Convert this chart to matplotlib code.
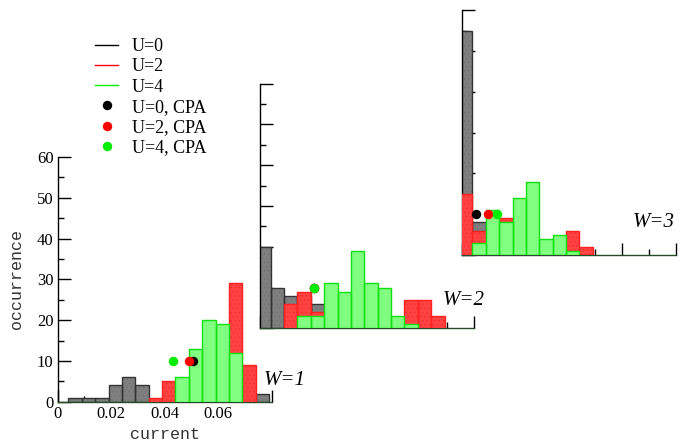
import matplotlib.pyplot as plt
from matplotlib.lines import Line2D
from matplotlib.ticker import MultipleLocator, FixedLocator
import numpy as np

plt.rcParams['font.family'] = ['Liberation Serif', 'DejaVu Serif']
plt.rcParams['hatch.linewidth'] = 0.5

# histogram bins (centres, width 0.005)
bin_centres = [0.0015, 0.0065, 0.0115, 0.0165, 0.0215, 0.0265, 0.0315, 0.0365,
               0.0415, 0.0465, 0.0515, 0.0565, 0.0615, 0.0665, 0.0715, 0.0765]
bin_width = 0.005

# W=1
w1_u0 = [0, 1, 1, 1, 4, 6, 4, 0, 0, 0, 0, 0, 0, 0, 0, 2]
w1_u2 = [0, 0, 0, 0, 0, 0, 0, 1, 5, 0, 0, 0, 0, 29, 9, 0]
w1_u4 = [0, 0, 0, 0, 0, 0, 0, 0, 0, 6, 13, 20, 19, 12, 0, 0]
# W=2
w2_u0 = [20, 10, 8, 8, 6, 0, 0, 0, 0, 0, 0, 0, 0, 0, 0, 0]
w2_u2 = [0, 0, 6, 9, 4, 0, 0, 0, 0, 0, 0, 7, 7, 3, 0, 0]
w2_u4 = [0, 0, 0, 3, 3, 11, 9, 19, 11, 10, 3, 1, 0, 0, 0, 0]
# W=3
w3_u0 = [55, 8, 0, 0, 0, 0, 0, 0, 0, 0, 0, 0, 0, 0, 0, 0]
w3_u2 = [15, 6, 0, 9, 0, 0, 0, 0, 6, 2, 0, 0, 0, 0, 0, 0]
w3_u4 = [0, 3, 11, 8, 14, 18, 4, 5, 1, 0, 0, 0, 0, 0, 0, 0]

# CPA results (current, occurrence) for U=0, U=2, U=4
cpa_w1 = [(0.0507, 10), (0.0491, 10), (0.0430, 10)]
cpa_w2 = [(0.0203, 10), (0.0203, 10), (0.0203, 10)]
cpa_w3 = [(0.0052, 10), (0.0100, 10), (0.0133, 10)]

w_labels = ['W=1', 'W=2', 'W=3']
w_label_pos = [(0.0771, 5.1), (0.0684, 6.9), (0.0640, 7.9)]

# styles: face, hatch colour, outline
hist_styles = [('#7f7f7f', '#727272', '#333333'),
               ('#ff4242', '#f02a2a', '#ff2020'),
               ('#80ff80', '#80ff80', '#10e010')]
dot_colors = ['black', '#ff0000', '#00ee00']

fig = plt.figure(figsize=(6.89, 4.45), dpi=100)

W, H = 689.0, 445.0
axes_origins = [(57.7, 401.7), (260.0, 328.3), (461.7, 255.0)]
ax_w, ax_h = 214.0, 244.7


def draw_hist(ax, heights, style, z):
    face, hatchc, edge = style
    x = np.array(bin_centres)
    h = np.array(heights, dtype=float)
    m = h > 0
    ax.bar(x[m], h[m], width=bin_width, color=face, edgecolor=hatchc,
           hatch='....' if hatchc != face else None, linewidth=0, zorder=z)
    ax.bar(x[m], h[m], width=bin_width, fill=False, edgecolor=edge,
           linewidth=1.0, zorder=z + 0.1)


all_hists = [(w1_u0, w1_u2, w1_u4), (w2_u0, w2_u2, w2_u4), (w3_u0, w3_u2, w3_u4)]
all_cpa = [cpa_w1, cpa_w2, cpa_w3]

axes = []
for i, (ox, oy) in enumerate(axes_origins):
    ax = fig.add_axes([ox / W, 1 - oy / H, ax_w / W, ax_h / H], zorder=i + 1)
    ax.patch.set_visible(False)
    ax.set_xlim(0, 0.08)
    ax.set_ylim(0, 60)
    for s in ('top', 'right'):
        ax.spines[s].set_visible(False)
    ax.spines['bottom'].set_color('#244d24')
    ax.spines['bottom'].set_linewidth(1.0)
    ax.spines['left'].set_linewidth(1.0)
    ax.xaxis.set_major_locator(FixedLocator([0, 0.02, 0.04, 0.06, 0.08]))
    ax.xaxis.set_minor_locator(MultipleLocator(0.01))
    ax.yaxis.set_major_locator(MultipleLocator(10))
    ax.yaxis.set_minor_locator(MultipleLocator(5))
    ax.tick_params(which='major', direction='in', length=9, width=1, color='black')
    ax.tick_params(which='minor', direction='in', length=4.5, width=1, color='black')

    for j, heights in enumerate(all_hists[i]):
        draw_hist(ax, heights, hist_styles[j], 2 + j)
    for j, (cx, cy) in enumerate(all_cpa[i]):
        ax.plot(cx, cy, 'o', color=dot_colors[j], markersize=6.8,
                markeredgewidth=0, zorder=10 + j, clip_on=False)

    ax.text(w_label_pos[i][0], w_label_pos[i][1], w_labels[i], fontsize=15,
            style='italic', ha='left', va='center')

    if i == 0:
        ax.set_xticklabels(['0', '0.02', '0.04', '0.06', ''])
        ax.tick_params(which='major', labelsize=12, pad=3)
        ax.set_xlabel('current', family='Liberation Mono', fontsize=12,
                      labelpad=4, color='#333333')
        ax.set_ylabel('occurrence', family='Liberation Mono', fontsize=12,
                      labelpad=9, color='#333333')
    else:
        ax.tick_params(labelbottom=False, labelleft=False)
    axes.append(ax)

handles = [Line2D([], [], color='black', lw=1),
           Line2D([], [], color='#ff0000', lw=1),
           Line2D([], [], color='#00ee00', lw=1),
           Line2D([], [], ls='none', marker='o', color='black', markersize=6.8, mew=0),
           Line2D([], [], ls='none', marker='o', color='#ff0000', markersize=6.8, mew=0),
           Line2D([], [], ls='none', marker='o', color='#00ee00', markersize=6.8, mew=0)]
labels = ['U=0', 'U=2', 'U=4', 'U=0, CPA', 'U=2, CPA', 'U=4, CPA']
fig.legend(handles, labels, loc='upper left', bbox_to_anchor=(95 / W, 1 - 38 / H),
           frameon=False, fontsize=13, handlelength=1.28, handletextpad=0.75,
           labelspacing=0.18, borderpad=0, borderaxespad=0)

fig.savefig('out.png', dpi=100)
